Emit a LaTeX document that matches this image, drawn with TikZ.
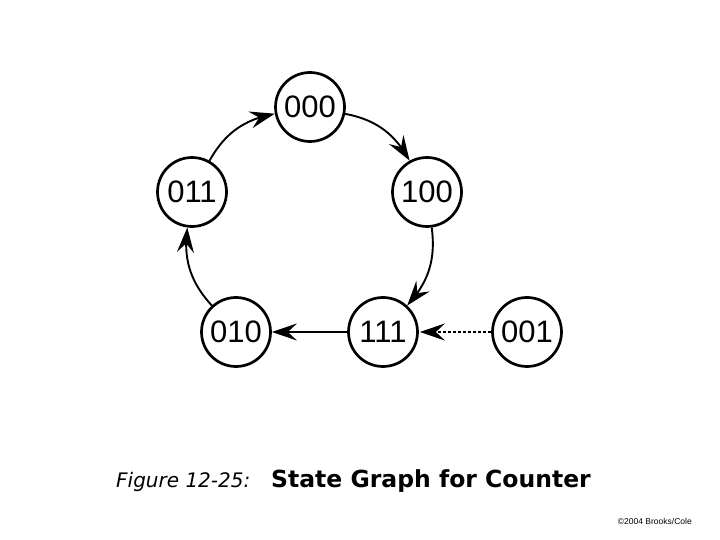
\documentclass[tikz,border=0pt]{standalone}
\usepackage{fontspec}
\setmainfont{Liberation Sans}
\newfontfamily\verd{DejaVu Sans}
\usetikzlibrary{arrows.meta,bending}
\begin{document}
\begin{tikzpicture}[x=1pt,y=1pt,
  state/.style={circle,draw,line width=2.7pt,minimum size=69pt,inner sep=0pt,font=\fontsize{31}{34}\selectfont},
  arr/.style={line width=1.9pt,-{Stealth[length=25pt,width=17pt,inset=9pt]}},
  darr/.style={line width=1.4pt,dash pattern=on 3pt off 2pt,-{Stealth[length=25pt,width=17pt,inset=9pt,sep=1pt]}}]
\useasboundingbox (0,0) rectangle (720,540);
\node[state] (s000) at (310,433) {000};
\node[state] (s011) at (192,348) {011};
\node[state] (s100) at (427,348) {100};
\node[state] (s010) at (236,208) {010};
\node[state] (s111) at (383,208) {111};
\node[state] (s001) at (527,208) {001};
\draw[arr] (s011) to[bend left=25] (s000);
\draw[arr] (s000) to[bend left=25] (s100);
\draw[arr] (s100) to[bend left=25] (s111);
\draw[arr] (s010) to[bend left=25] (s011);
\draw[arr] (s111) -- (s010);
\draw[darr] (s001) -- (s111);
\node[anchor=base west,inner sep=0pt,font=\verd\itshape\fontsize{20}{24}\selectfont] (fig) at (116,52) {Figure 12-25:};
\node[anchor=base west,inner sep=0pt,font=\verd\bfseries\fontsize{23.5}{28}\selectfont] (ttl) at (271,52) {State Graph for Counter};
\node[anchor=base east,inner sep=0pt,font=\fontsize{8.5}{10}\selectfont] (cr) at (692,15) {©2004 Brooks/Cole};
\end{tikzpicture}
\end{document}
